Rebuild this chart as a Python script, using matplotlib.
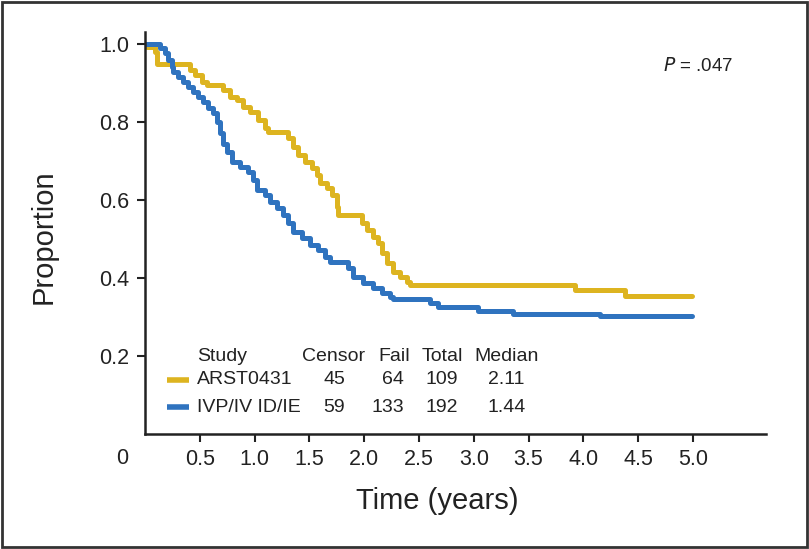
import numpy as np
import matplotlib
matplotlib.use('Agg')
import matplotlib.pyplot as plt
from matplotlib.patches import Rectangle

plt.rcParams['font.family'] = ['Liberation Sans', 'DejaVu Sans']

# Kaplan-Meier steps (time in years, proportion)
arst_time = [0, 0.016, 0.091, 0.107, 0.411, 0.456, 0.517, 0.563, 0.714, 0.776, 0.837,
             0.897, 0.958, 1.034, 1.095, 1.125, 1.307, 1.353, 1.399, 1.46, 1.521, 1.567,
             1.597, 1.658, 1.703, 1.749, 1.764, 1.977, 2.023, 2.083, 2.129, 2.16, 2.205,
             2.266, 2.327, 2.388, 2.418, 3.923, 4.38, 4.99]
arst_surv = [1.0, 0.993, 0.98, 0.95, 0.933, 0.921, 0.903, 0.895, 0.882, 0.865, 0.856,
             0.839, 0.826, 0.805, 0.784, 0.775, 0.758, 0.737, 0.715, 0.698, 0.681, 0.664,
             0.643, 0.63, 0.613, 0.583, 0.562, 0.54, 0.523, 0.506, 0.489, 0.463, 0.438,
             0.416, 0.403, 0.391, 0.382, 0.369, 0.355, 0.355]

ivp_time = [0, 0.137, 0.182, 0.213, 0.244, 0.258, 0.304, 0.349, 0.395, 0.441, 0.486,
            0.532, 0.578, 0.623, 0.654, 0.684, 0.714, 0.745, 0.791, 0.867, 0.943, 0.988,
            1.019, 1.095, 1.141, 1.202, 1.262, 1.307, 1.353, 1.43, 1.505, 1.581, 1.642,
            1.688, 1.855, 1.901, 1.992, 2.083, 2.16, 2.235, 2.26, 2.6, 2.673, 3.038,
            3.358, 4.151, 4.99]
ivp_surv = [1.0, 0.989, 0.976, 0.959, 0.942, 0.929, 0.916, 0.903, 0.891, 0.878, 0.865,
            0.852, 0.835, 0.822, 0.801, 0.771, 0.745, 0.724, 0.698, 0.685, 0.673, 0.651,
            0.626, 0.613, 0.596, 0.579, 0.562, 0.54, 0.519, 0.502, 0.485, 0.472, 0.455,
            0.442, 0.425, 0.403, 0.386, 0.374, 0.361, 0.352, 0.345, 0.335, 0.325, 0.316,
            0.309, 0.303, 0.303]

studies = ['ARST0431', 'IVP/IV ID/IE']
censor = [45, 59]
fail = [64, 133]
total = [109, 192]
median = ['2.11', '1.44']
colors = ['#DDB420', '#2F73BF']

x_ticks = [0.5, 1.0, 1.5, 2.0, 2.5, 3.0, 3.5, 4.0, 4.5, 5.0]
y_ticks = [0.2, 0.4, 0.6, 0.8, 1.0]

fig = plt.figure(figsize=(8.09, 5.49), dpi=100)
ax = fig.add_axes([0.1792, 0.2095, 0.7676, 0.7322])

for t, s, c in [(arst_time, arst_surv, colors[0]), (ivp_time, ivp_surv, colors[1])]:
    ax.step(t, s, where='post', color=c, linewidth=3.6,
            solid_capstyle='round', solid_joinstyle='round')

ax.set_xlim(0, 5.666)
ax.set_ylim(0, 1.031)
ax.set_xticks(x_ticks)
ax.set_xticklabels(['%.1f' % v for v in x_ticks])
ax.set_yticks(y_ticks)
ax.set_yticklabels(['%.1f' % v for v in y_ticks])

for side in ['top', 'right']:
    ax.spines[side].set_visible(False)
for side in ['left', 'bottom']:
    ax.spines[side].set_linewidth(1.8)
    ax.spines[side].set_color('#222222')
ax.tick_params(axis='both', direction='out', length=6, width=1.5, color='#222222',
               labelsize=15.5, labelcolor='#222222')
ax.tick_params(axis='y', pad=5.5)
ax.tick_params(axis='x', pad=5)

ax.set_xlabel('Time (years)', fontsize=21, color='#222222')
ax.xaxis.set_label_coords(0.470, -0.133)
ax.set_ylabel('Proportion', fontsize=21, color='#222222')
ax.yaxis.set_label_coords(-0.140, 0.49)

# origin label
fig.text(122 / 809, 1 - 459 / 549, '0', ha='center', va='center', fontsize=15.5, color='#222222')

ax.text(4.73, 0.943, r'$\it{P}$ = .047', fontsize=13.5, color='#222222', ha='left', va='center')

# table legend
fs = 14
hy = 0.198
ax.text(0.474, hy, 'Study', fontsize=fs, ha='left', va='center', color='#222222')
ax.text(1.72, hy, 'Censor', fontsize=fs, ha='center', va='center', color='#222222')
ax.text(2.418, hy, 'Fail', fontsize=fs, ha='right', va='center', color='#222222')
ax.text(2.71, hy, 'Total', fontsize=fs, ha='center', va='center', color='#222222')
ax.text(3.01, hy, 'Median', fontsize=fs, ha='left', va='center', color='#222222')
row_y = [0.139, 0.069]
for i in range(len(studies)):
    y = row_y[i]
    ax.plot([0.2, 0.4], [y, y], color=colors[i], linewidth=4, solid_capstyle='butt')
    ax.text(0.474, y, studies[i], fontsize=fs, ha='left', va='center', color='#222222')
    ax.text(1.725, y, str(censor[i]), fontsize=fs, ha='center', va='center', color='#222222')
    ax.text(2.363, y, str(fail[i]), fontsize=fs, ha='right', va='center', color='#222222')
    ax.text(2.71, y, str(total[i]), fontsize=fs, ha='center', va='center', color='#222222')
    ax.text(3.30, y, median[i], fontsize=fs, ha='center', va='center', color='#222222')

# frame around figure
fig.patches.append(Rectangle((0.002, 0.003), 0.996, 0.994, transform=fig.transFigure,
                             fill=False, edgecolor='#333333', linewidth=2))

fig.savefig('out.png', dpi=100)
